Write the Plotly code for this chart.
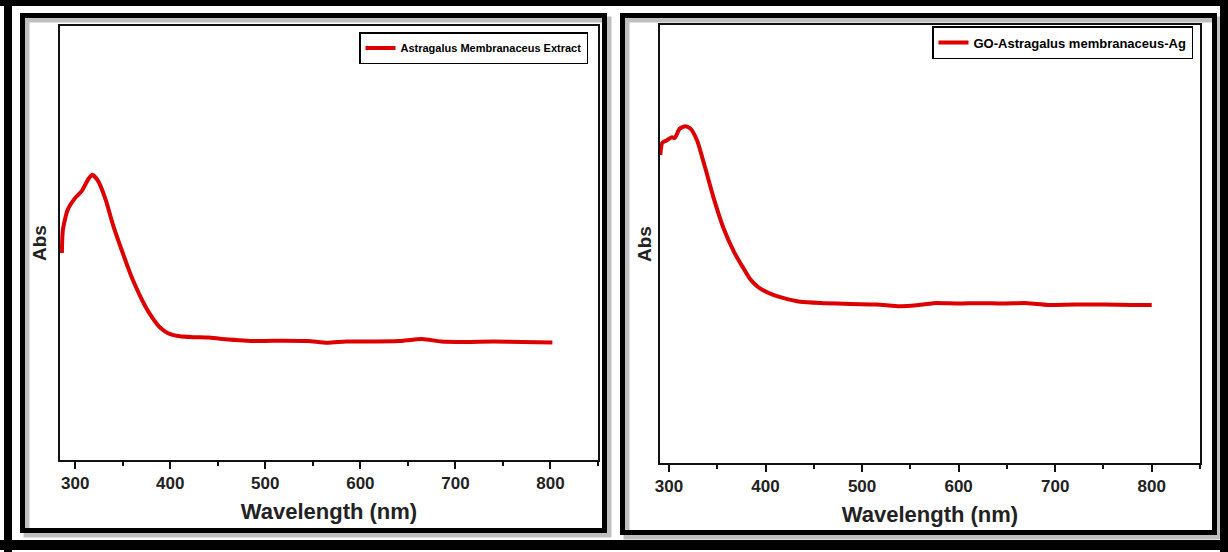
import plotly.graph_objects as go

# ---------------- data ----------------
wl_extract = [286, 287, 292, 300, 307, 314, 318, 324, 332, 340, 350, 360, 374, 382, 388, 394,
              400, 410, 425, 440, 455, 490, 520, 545, 565, 585, 610, 640, 665, 685, 710, 740,
              770, 802]
abs_extract = [0.477, 0.530, 0.576, 0.604, 0.620, 0.648, 0.657, 0.643, 0.600, 0.540, 0.477,
               0.418, 0.353, 0.325, 0.308, 0.297, 0.290, 0.285, 0.283, 0.282, 0.279, 0.274,
               0.275, 0.274, 0.270, 0.273, 0.273, 0.274, 0.279, 0.273, 0.272, 0.273, 0.272,
               0.271]

wl_composite = [291, 293, 298, 303, 306, 311, 317, 322, 329, 337, 346, 356, 368, 377, 384, 391,
                397, 408, 418, 436, 460, 488, 515, 539, 556, 574, 600, 622, 645, 671, 692, 720,
                750, 780, 800]
abs_composite = [0.703, 0.731, 0.737, 0.744, 0.742, 0.763, 0.769, 0.764, 0.737, 0.678, 0.607,
                 0.539, 0.479, 0.445, 0.420, 0.404, 0.395, 0.384, 0.377, 0.368, 0.365, 0.363,
                 0.362, 0.358, 0.360, 0.365, 0.364, 0.365, 0.364, 0.365, 0.361, 0.362, 0.362,
                 0.361, 0.361]

x_tick_vals = [300, 400, 500, 600, 700, 800]
x_tick_text = ["300", "400", "500", "600", "700", "800"]
name_extract = "Astragalus Membranaceus Extract"
name_composite = "GO-Astragalus membranaceus-Ag"

# ---------------- figure ----------------
W, H = 1228, 552
RED = "rgb(222,0,0)"
FONT = "Liberation Sans"


def px(x):
    return x / W


def py(y):
    return 1 - y / H


fig = go.Figure()
fig.add_trace(go.Scatter(x=wl_extract, y=abs_extract, mode="lines", name=name_extract,
                         line=dict(color=RED, width=4, shape="spline", smoothing=0.6),
                         xaxis="x", yaxis="y", legend="legend"))
fig.add_trace(go.Scatter(x=wl_composite, y=abs_composite, mode="lines", name=name_composite,
                         line=dict(color=RED, width=4, shape="spline", smoothing=0.6),
                         xaxis="x2", yaxis="y2", legend="legend2"))

tickfont = dict(family=FONT, size=17, color="#222", weight="bold")
xtitlefont = dict(family=FONT, size=22, color="#222", weight="bold")
ytitlefont = dict(family=FONT, size=19, color="#222", weight="bold")


def xaxis_cfg(domain, rng, anchor):
    return dict(domain=domain, range=rng, anchor=anchor, showline=True, linecolor="#111",
                linewidth=2, mirror=True, ticks="outside", ticklen=7, tickwidth=2,
                tickcolor="#111", tickvals=x_tick_vals, ticktext=x_tick_text,
                tickfont=tickfont,
                minor=dict(dtick=50, tick0=300, ticks="outside", ticklen=4, tickwidth=2,
                           tickcolor="#111", showgrid=False),
                showgrid=False, zeroline=False, automargin=False,
                title=dict(text="Wavelength (nm)", font=xtitlefont, standoff=11))


def yaxis_cfg(domain, anchor, standoff):
    return dict(domain=domain, range=[0, 1], showline=True, linecolor="#111", linewidth=2,
                mirror=True, ticks="", showticklabels=False, showgrid=False, zeroline=False,
                automargin=False, anchor=anchor,
                title=dict(text="Abs", font=ytitlefont, standoff=standoff))


fig.update_layout(
    width=W, height=H, autosize=False,
    margin=dict(l=0, r=0, t=0, b=0, pad=0),
    paper_bgcolor="white", plot_bgcolor="white",
    xaxis=xaxis_cfg([px(60), px(598)], [284, 850], "y"),
    yaxis=yaxis_cfg([py(460), py(26)], "x", 6),
    xaxis2=xaxis_cfg([px(660), px(1200)], [290.7, 850], "y2"),
    yaxis2=yaxis_cfg([py(463), py(25)], "x2", 1),
    legend=dict(x=px(588), xanchor="right", y=py(32), yanchor="top",
                bordercolor="black", borderwidth=1.5, bgcolor="white",
                font=dict(family=FONT, size=11, color="black", weight="bold"),
                itemwidth=30, tracegroupgap=0),
    legend2=dict(x=px(1193), xanchor="right", y=py(26), yanchor="top",
                 bordercolor="black", borderwidth=1.5, bgcolor="white",
                 font=dict(family=FONT, size=13, color="black", weight="bold"),
                 itemwidth=30, tracegroupgap=0),
    showlegend=True,
)

shapes = []


def rect(x0, y0, x1, y1, fill=None, line=None, lw=0):
    shapes.append(dict(type="rect", xref="paper", yref="paper",
                       x0=px(x0), x1=px(x1), y0=py(y1), y1=py(y0),
                       fillcolor=fill if fill else "rgba(0,0,0,0)",
                       line=dict(color=line if line else "rgba(0,0,0,0)", width=lw),
                       layer="above"))


# outer black frame
rect(0, 0, W, 6, fill="black")
rect(4, 0, 12, H, fill="black")
rect(1220, 0, W, H, fill="black")
rect(0, 540, W, 550, fill="black")

# panel frames with soft shadow
for (x0, y0, x1, y1) in [(22.5, 15.5, 604.5, 530.5), (622.5, 15.5, 1214.5, 532.5)]:
    rect(x0 + 4, y0 + 4, x1 + 4, y1 + 4, line="rgba(0,0,0,0.25)", lw=6)
    rect(x0, y0, x1, y1, line="black", lw=5)

fig.update_layout(shapes=shapes)

fig.write_html("out.html")
